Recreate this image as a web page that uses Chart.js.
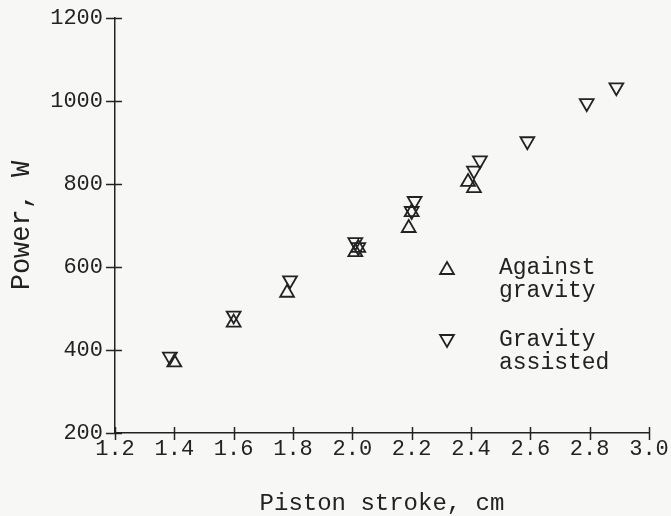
<!DOCTYPE html>
<html>
<head>
<meta charset="utf-8">
<script src="https://cdn.jsdelivr.net/npm/chart.js@4.4.1/dist/chart.umd.min.js"></script>
<style>
  html, body { margin: 0; padding: 0; background: #f7f7f6; }
  #wrap { width: 671px; height: 516px; position: relative; }
</style>
</head>
<body>
<div id="wrap"><canvas id="c" width="671" height="516"></canvas></div>
<script>
// ---- Data ----
const againstLabel = "Against gravity";
const againstX = [1.40, 1.60, 1.78, 2.01, 2.02, 2.19, 2.20, 2.39, 2.41];
const againstY = [370, 466, 538, 636, 646, 694, 732, 805, 790];

const assistedLabel = "Gravity assisted";
const assistedX = [1.385, 1.60, 1.79, 2.01, 2.02, 2.21, 2.20, 2.41, 2.43, 2.59, 2.79, 2.89];
const assistedY = [384, 483, 568, 660, 648, 759, 735, 832, 857, 903, 995, 1033];

const xTicks = [1.2, 1.4, 1.6, 1.8, 2.0, 2.2, 2.4, 2.6, 2.8, 3.0];
const yTicks = [200, 400, 600, 800, 1000, 1200];
const xTitle = "Piston stroke, cm";
const yTitle = "Power, W";

const INK = '#222222';
const FONT = "'Liberation Mono', 'Courier New', monospace";

function pts(xs, ys) { return xs.map((x, i) => ({ x: x, y: ys[i] })); }

// crossing tick marks drawn at the scales' own tick positions
const crossTicks = {
  id: 'crossTicks',
  afterDraw(chart) {
    const ctx = chart.ctx;
    const xs = chart.scales.x, ys = chart.scales.y;
    ctx.save();
    ctx.strokeStyle = INK;
    ctx.lineWidth = 1.5;
    xTicks.forEach(v => {
      const px = Math.round(xs.getPixelForValue(v)) + 0.5;
      ctx.beginPath();
      ctx.moveTo(px, xs.top - 6);
      ctx.lineTo(px, xs.top + 7);
      ctx.stroke();
    });
    yTicks.forEach(v => {
      const py = Math.round(ys.getPixelForValue(v)) + 0.5;
      ctx.beginPath();
      ctx.moveTo(ys.right - 9, py);
      ctx.lineTo(ys.right + 7, py);
      ctx.stroke();
    });
    ctx.restore();
  }
};

// legend inside the plot, with two-line labels
function drawTri(ctx, x, y, r, down) {
  ctx.beginPath();
  const s = down ? -1 : 1;
  ctx.moveTo(x, y - s * r);
  ctx.lineTo(x + r * Math.sin(Math.PI / 3), y + s * r / 2);
  ctx.lineTo(x - r * Math.sin(Math.PI / 3), y + s * r / 2);
  ctx.closePath();
  ctx.stroke();
}
const innerLegend = {
  id: 'innerLegend',
  afterDraw(chart) {
    const ctx = chart.ctx;
    const a = chart.chartArea;
    ctx.save();
    ctx.strokeStyle = INK;
    ctx.fillStyle = INK;
    ctx.lineWidth = 1.8;
    ctx.font = "23px " + FONT;
    ctx.textBaseline = 'middle';
    ctx.textAlign = 'left';
    const mx = a.left + 332, tx = a.left + 384;
    const items = [
      { down: false, lines: againstLabel.split(' '), y: 268 },
      { down: true, lines: assistedLabel.split(' '), y: 340 }
    ];
    items.forEach(it => {
      drawTri(ctx, mx, it.y + (it.down ? -1 : 2), 8, it.down);
      it.lines.forEach((t, i) => ctx.fillText(t, tx, it.y + i * 23));
    });
    ctx.restore();
  }
};

new Chart(document.getElementById('c'), {
  type: 'scatter',
  data: {
    datasets: [
      {
        label: againstLabel,
        data: pts(againstX, againstY),
        pointStyle: 'triangle',
        rotation: 0,
        pointRadius: 8,
        pointHoverRadius: 8,
        backgroundColor: 'rgba(0,0,0,0)',
        borderColor: INK,
        borderWidth: 1.8
      },
      {
        label: assistedLabel,
        data: pts(assistedX, assistedY),
        pointStyle: 'triangle',
        rotation: 180,
        pointRadius: 8,
        pointHoverRadius: 8,
        backgroundColor: 'rgba(0,0,0,0)',
        borderColor: INK,
        borderWidth: 1.8
      }
    ]
  },
  options: {
    responsive: false,
    animation: false,
    events: [],
    layout: { padding: { left: 8, right: 22, top: 18, bottom: 0 } },
    plugins: {
      legend: { display: false },
      tooltip: { enabled: false }
    },
    scales: {
      x: {
        type: 'linear',
        min: 1.2, max: 3.0,
        afterBuildTicks(s) { s.ticks = xTicks.map(v => ({ value: v })); },
        afterFit(s) { s.height = 83; s.paddingLeft = 0; s.paddingRight = 0; },
        ticks: {
          color: INK,
          font: { family: FONT, size: 22 },
          padding: 3,
          maxRotation: 0,
          autoSkip: false,
          callback: v => Number(v).toFixed(1)
        },
        grid: { display: false, tickLength: 0 },
        border: { display: true, color: INK, width: 1.5 },
        title: {
          display: true,
          text: xTitle,
          color: INK,
          font: { family: FONT, size: 24, lineHeight: 1 },
          padding: { top: 0, bottom: 0 }
        }
      },
      y: {
        type: 'linear',
        min: 200, max: 1200,
        afterBuildTicks(s) { s.ticks = yTicks.map(v => ({ value: v })); },
        afterFit(s) { s.width = 107; s.paddingTop = 0; s.paddingBottom = 0; },
        ticks: {
          color: INK,
          font: { family: FONT, size: 22 },
          padding: 12,
          autoSkip: false,
          callback: v => String(v)
        },
        grid: { display: false, tickLength: 0 },
        border: { display: true, color: INK, width: 1.5 },
        title: {
          display: true,
          text: yTitle,
          color: INK,
          font: { family: FONT, size: 27, lineHeight: 1 },
          padding: { top: 0, bottom: 0 }
        }
      }
    }
  },
  plugins: [crossTicks, innerLegend]
});
</script>
</body>
</html>
